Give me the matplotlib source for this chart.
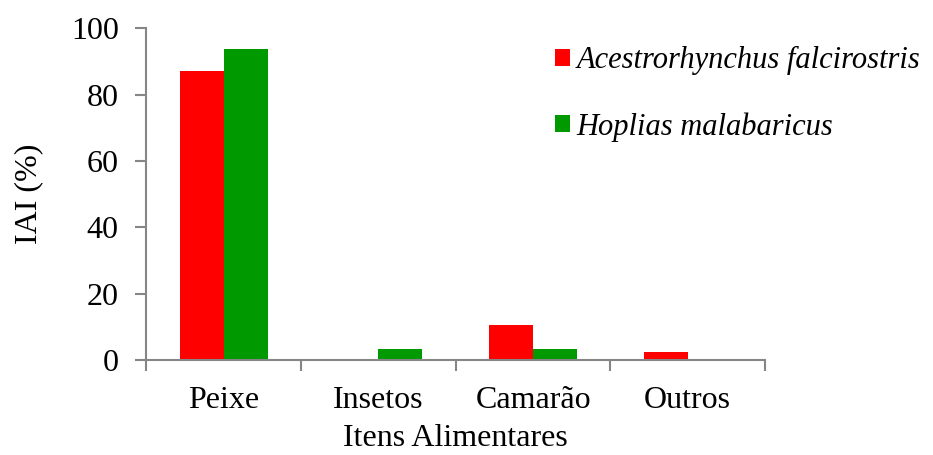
import matplotlib
matplotlib.use("Agg")
import matplotlib.pyplot as plt
import numpy as np

categories = ["Peixe", "Insetos", "Camarão", "Outros"]
acestro = [87.0, 0.0, 10.4, 2.5]
hoplias = [93.7, 3.2, 3.2, 0.0]
series_names = ["Acestrorhynchus falcirostris", "Hoplias malabaricus"]

plt.rcParams["font.family"] = ["Liberation Serif", "DejaVu Serif"]
FS = 23

fig = plt.figure(figsize=(9.33, 4.55), dpi=100)
ax = fig.add_axes([0.157, 0.209, 0.663, 0.729])

x = np.arange(len(categories))
w = 0.284
ax.bar(x - w / 2, acestro, width=w, color="#FF0000", label=series_names[0])
ax.bar(x + w / 2, hoplias, width=w, color="#009900", label=series_names[1])

ax.set_xlim(-0.5, len(categories) - 0.5)
ax.set_ylim(0, 100)
ax.set_yticks(range(0, 101, 20))
ax.set_xticks(x)
ax.set_xticklabels(categories)
ax.set_xticks(np.arange(-0.5, len(categories)), minor=True)
ax.tick_params(axis="x", which="major", length=0, pad=19, labelsize=FS)
ax.tick_params(axis="x", which="minor", length=8, color="#868686", width=1.5)
ax.tick_params(axis="y", length=8, color="#868686", width=1.5, labelsize=FS, pad=12)

for s in ("top", "right"):
    ax.spines[s].set_visible(False)
for s in ("left", "bottom"):
    ax.spines[s].set_color("#868686")
    ax.spines[s].set_linewidth(1.5)

ax.set_xlabel("Itens Alimentares", fontsize=FS, labelpad=6)
ax.set_ylabel("IAI (%)", fontsize=FS, labelpad=20)

leg = fig.legend(loc="upper left", bbox_to_anchor=(0.595, 0.898), frameon=False,
                 prop={"style": "italic", "size": 22}, handlelength=0.5,
                 handleheight=0.5, handletextpad=0.2, labelspacing=1.2,
                 borderpad=0, borderaxespad=0)

fig.savefig("out.png", dpi=100)
